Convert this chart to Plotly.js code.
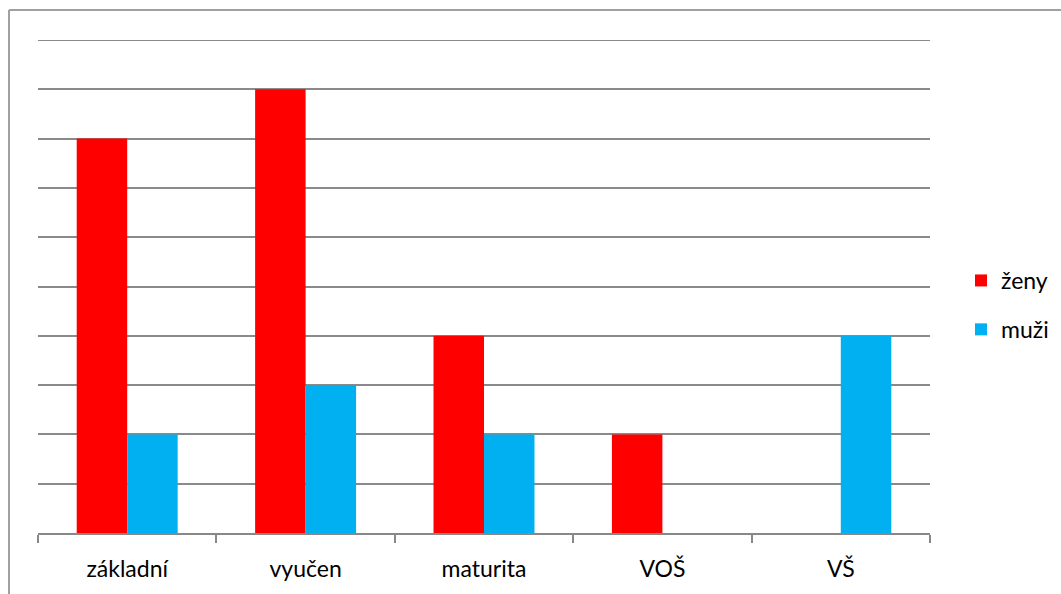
<!DOCTYPE html>
<html>
<head>
<meta charset="utf-8">
<script src="https://cdn.plot.ly/plotly-3.0.1.min.js"></script>
<style>
html,body{margin:0;padding:0;background:#fff;}
#chart{width:1061px;height:594px;}
</style>
</head>
<body>
<div id="chart"></div>
<script>
const categories = ["základní", "vyučen", "maturita", "VOŠ", "VŠ"];
const zeny = [8, 9, 4, 2, 0];
const muzi = [2, 3, 2, 0, 4];
const seriesNames = ["ženy", "muži"];
const yMax = 10;

const W = 1061, H = 594;
const L = 38, R = 930, T = 40, B = 533;
const px = x => (x - L) / (R - L);
const py = y => (B - y) / (B - T);

const traces = [
  {type: "bar", name: seriesNames[0], legendgroup: "a", x: categories, y: zeny, marker: {color: "#FF0000"}},
  {type: "bar", name: seriesNames[1], legendgroup: "b", x: categories, y: muzi, marker: {color: "#00B0F0"}}
];

const layout = {
  width: W, height: H,
  margin: {l: L, r: W - R, t: T, b: H - B, pad: 0, autoexpand: false},
  paper_bgcolor: "#fff", plot_bgcolor: "#fff",
  font: {family: "Lato, 'Open Sans', sans-serif", size: 23, color: "#000"},
  barmode: "group", bargap: 0.434, bargroupgap: 0,
  showlegend: true,
  legend: {x: px(961), xanchor: "left", y: py(305), yanchor: "middle",
           font: {size: 23}, bgcolor: "rgba(0,0,0,0)", traceorder: "grouped", tracegroupgap: 16, itemwidth: 30},
  xaxis: {type: "category", tickson: "boundaries", ticks: "outside", ticklen: 8,
          tickcolor: "#888", tickwidth: 2, showline: true, linecolor: "#888", linewidth: 2,
          showgrid: false, fixedrange: true, tickfont: {size: 23}, ticklabelstandoff: 14},
  yaxis: {range: [0, yMax], dtick: 1, showticklabels: false, ticks: "",
          showgrid: true, gridcolor: "#8a8a8a", gridwidth: 2, zeroline: false, showline: false, fixedrange: true},
  shapes: [
    {type: "line", xref: "paper", yref: "y", x0: 0, x1: 1, y0: yMax, y1: yMax,
     line: {color: "#8a8a8a", width: 2}},
    {type: "line", xref: "paper", yref: "paper", x0: px(9), x1: px(9), y0: py(10), y1: py(600),
     line: {color: "#a0a0a0", width: 2}},
    {type: "line", xref: "paper", yref: "paper", x0: px(9), x1: px(1070), y0: py(10), y1: py(10),
     line: {color: "#a0a0a0", width: 2}}
  ]
};

Plotly.newPlot("chart", traces, layout, {displayModeBar: false, staticPlot: true});
</script>
</body>
</html>
